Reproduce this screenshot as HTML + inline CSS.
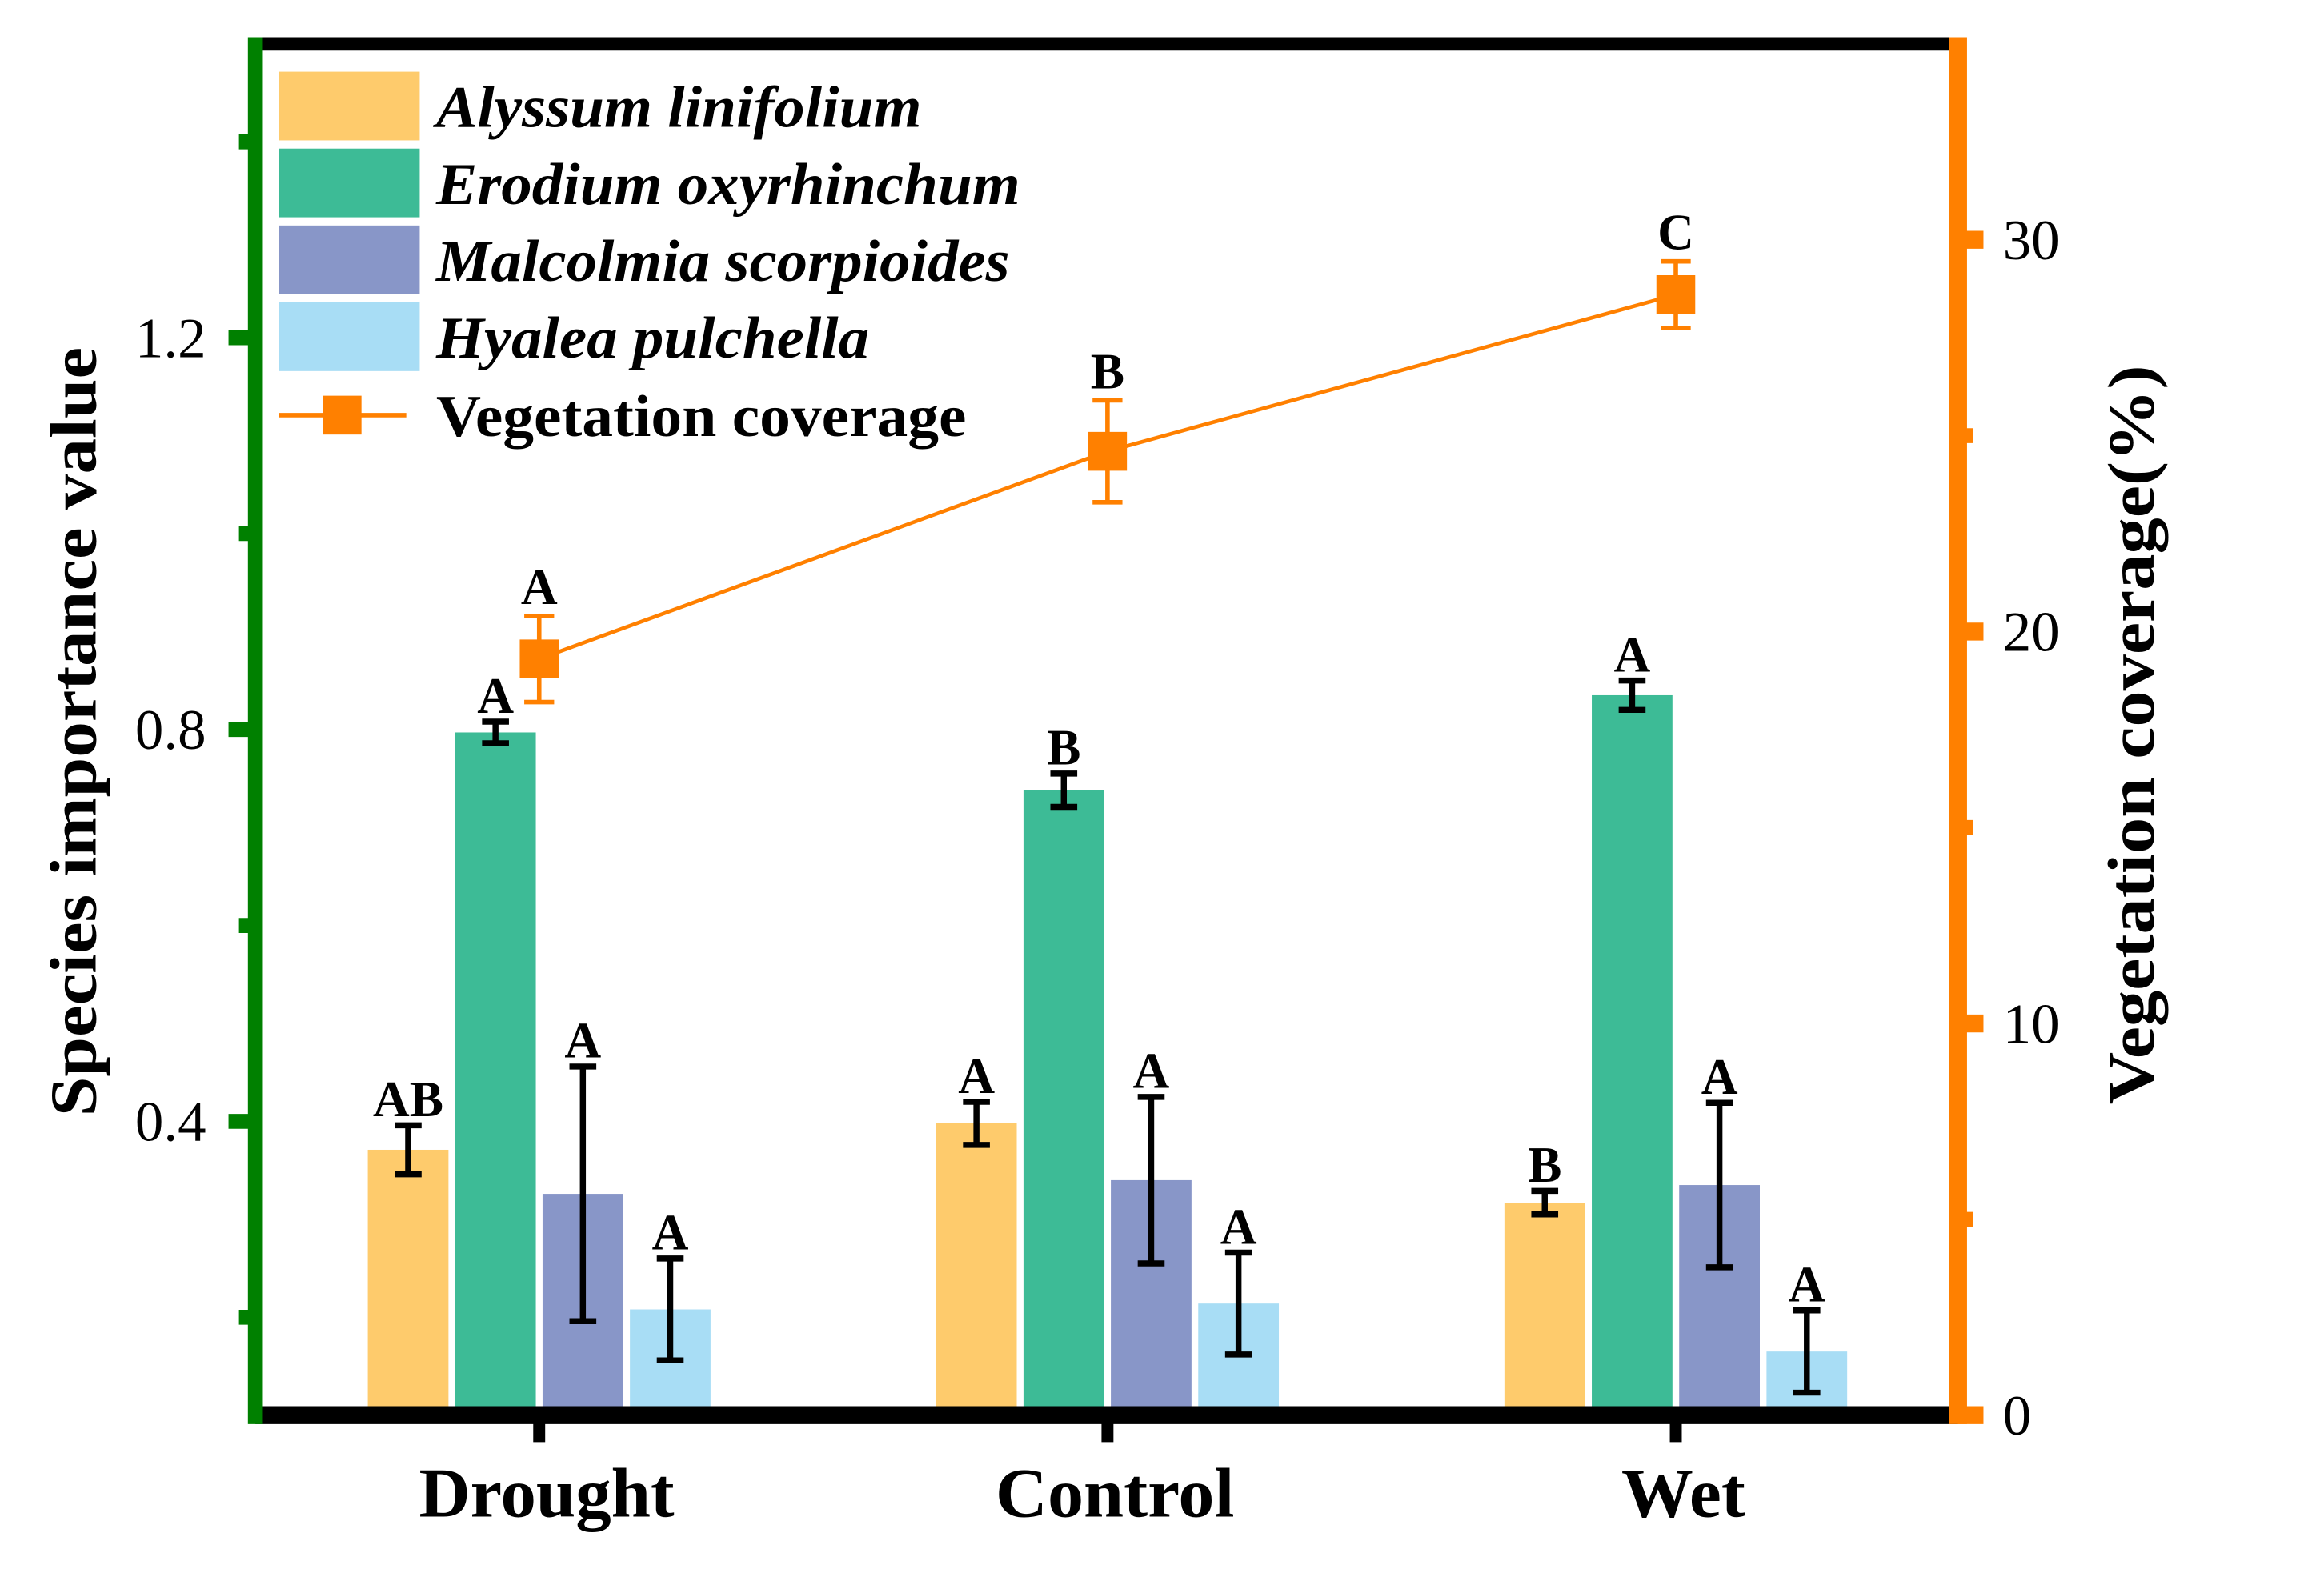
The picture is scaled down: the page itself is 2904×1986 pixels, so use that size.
<!DOCTYPE html>
<html><head><meta charset="utf-8"><style>
html,body{margin:0;padding:0;background:#fff;}
svg{display:block;font-family:"Liberation Serif",serif;}
</style></head><body>
<svg id="chart" width="2904" height="1986" viewBox="0 0 1556 1064" preserveAspectRatio="none" xmlns="http://www.w3.org/2000/svg">
<rect x="0" y="0" width="1556" height="1064" fill="#fff"/>
<g id="marks"></g>
<g id="axes"></g>
<g id="legend"></g>
<text transform="translate(64,490) rotate(-90)" text-anchor="middle" font-size="44" font-weight="bold" textLength="515" lengthAdjust="spacingAndGlyphs">Species importance value</text>
<text transform="translate(1442,492) rotate(-90)" text-anchor="middle" font-size="44" font-weight="bold" textLength="495" lengthAdjust="spacingAndGlyphs">Vegetation coverage(%)</text>
</svg>
<script>
const categories = ["Drought", "Control", "Wet"];
const species = ["Alyssum linifolium", "Erodium oxyrhinchum", "Malcolmia scorpioides", "Hyalea pulchella"];
const alyssum = [0.371, 0.398, 0.317];
const alyssumErr = [0.025, 0.022, 0.012];
const alyssumSig = ["AB", "A", "B"];
const erodium = [0.797, 0.738, 0.835];
const erodiumErr = [0.011, 0.017, 0.015];
const erodiumSig = ["A", "B", "A"];
const malcolmia = [0.326, 0.340, 0.335];
const malcolmiaErr = [0.13, 0.085, 0.084];
const malcolmiaSig = ["A", "A", "A"];
const hyalea = [0.208, 0.214, 0.165];
const hyaleaErr = [0.052, 0.052, 0.042];
const hyaleaSig = ["A", "A", "A"];
const coverage = [19.3, 24.6, 28.6];
const coverageErr = [1.1, 1.3, 0.85];
const coverageSig = ["A", "B", "C"];
const yTicks = [0.4, 0.8, 1.2];
const yMinor = [0.2, 0.6, 1.0, 1.4];
const y2Ticks = [0, 10, 20, 30];
const y2Minor = [5, 15, 25];

const NS = "http://www.w3.org/2000/svg";
const L = 171, R = 1311, T = 29.4, B = 947.6;
const yMin = 0.1, yMax = 1.5, y2Max = 35;
const y = v => B - (v - yMin) / (yMax - yMin) * (B - T);
const y2 = v => B - v / y2Max * (B - T);
const gx = i => 361 + i * 380.5;
const barW = 54, step = 58.5;
const colors = ["#FECB6C", "#3DBB96", "#8896C8", "#A8DDF5"];
const ORANGE = "#FF8000";
function mk(tag, attrs, parent, txt) {
  const e = document.createElementNS(NS, tag);
  for (const k in attrs) e.setAttribute(k, attrs[k]);
  if (txt !== undefined) e.textContent = txt;
  parent.appendChild(e);
  return e;
}
const marks = document.getElementById("marks");
const axes = document.getElementById("axes");
const legend = document.getElementById("legend");
const series = [alyssum, erodium, malcolmia, hyalea];
const errs = [alyssumErr, erodiumErr, malcolmiaErr, hyaleaErr];
const sigs = [alyssumSig, erodiumSig, malcolmiaSig, hyaleaSig];
const keys = ["alyssum", "erodium", "malcolmia", "hyalea"];
series.forEach((vals, s) => {
  vals.forEach((v, i) => {
    const cx = gx(i) + (s - 1.5) * step;
    const r = mk("rect", {x: cx - barW / 2, y: y(v), width: barW, height: B - y(v), fill: colors[s]}, marks);
    
    
    const hi = y(v + errs[s][i]), lo = y(v - errs[s][i]);
    const eb = mk("path", {d: `M${cx},${hi}V${lo}M${cx - 9},${hi}H${cx + 9}M${cx - 9},${lo}H${cx + 9}`, stroke: "#000", "stroke-width": 4, fill: "none"}, marks);
    
    
    const t = mk("text", {x: cx, y: hi - 6, "text-anchor": "middle", "font-size": 34, "font-weight": "bold"}, marks, sigs[s][i]);
    
    
  });
});
const pts = coverage.map((v, i) => `${gx(i)},${y2(v)}`).join(" ");
const pl = mk("polyline", {points: pts, fill: "none", stroke: ORANGE, "stroke-width": 2.5}, marks);


coverage.forEach((v, i) => {
  const cx = gx(i), hi = y2(v + coverageErr[i]), lo = y2(v - coverageErr[i]);
  const eb = mk("path", {d: `M${cx},${hi}V${lo}M${cx - 10},${hi}H${cx + 10}M${cx - 10},${lo}H${cx + 10}`, stroke: ORANGE, "stroke-width": 3, fill: "none"}, marks);
  
  
  const p = mk("rect", {x: cx - 13, y: y2(v) - 13, width: 26, height: 26, fill: ORANGE}, marks);
  
  
  const t = mk("text", {x: cx, y: hi - 8, "text-anchor": "middle", "font-size": 34, "font-weight": "bold"}, marks, coverageSig[i]);
  
  
});
let a;
a = mk("line", {x1: L, y1: T, x2: R, y2: T, stroke: "#000", "stroke-width": 9}, axes);
 
a = mk("line", {x1: L, y1: B, x2: R, y2: B, stroke: "#000", "stroke-width": 12}, axes);
 
a = mk("line", {x1: L, y1: T - 4.5, x2: L, y2: B + 6, stroke: "#008000", "stroke-width": 10}, axes);
 
a = mk("line", {x1: R, y1: T - 4.5, x2: R, y2: B + 6, stroke: ORANGE, "stroke-width": 12}, axes);
 
yTicks.forEach(v => {
  const tk = mk("line", {x1: L - 18, y1: y(v), x2: L, y2: y(v), stroke: "#008000", "stroke-width": 10}, axes);
   
  const t = mk("text", {x: L - 33, y: y(v) + 13, "text-anchor": "end", "font-size": 38}, axes, v.toFixed(1));
   
});
yMinor.forEach(v => {
  const tk = mk("line", {x1: L - 11, y1: y(v), x2: L, y2: y(v), stroke: "#008000", "stroke-width": 10}, axes);
   
});
y2Ticks.forEach(v => {
  const tk = mk("line", {x1: R, y1: y2(v), x2: R + 17, y2: y2(v), stroke: ORANGE, "stroke-width": 12}, axes);
   
  const t = mk("text", {x: R + 30, y: y2(v) + 13, "font-size": 38}, axes, String(v));
   
});
y2Minor.forEach(v => {
  const tk = mk("line", {x1: R, y1: y2(v), x2: R + 10, y2: y2(v), stroke: ORANGE, "stroke-width": 10}, axes);
   
});
const xLabelW = [171, 160, 83];
categories.forEach((c, i) => {
  const tk = mk("line", {x1: gx(i), y1: B, x2: gx(i), y2: B + 18, stroke: "#000", "stroke-width": 8}, axes);
   
  const t = mk("text", {x: gx(i) + 5, y: B + 68, "text-anchor": "middle", "font-size": 47, "font-weight": "bold", textLength: xLabelW[i], lengthAdjust: "spacingAndGlyphs"}, axes, c);
   
});
const legendW = [325, 391, 384, 290];
species.forEach((s, k) => {
  const yy = 48 + k * 51.5;
  const sw = mk("rect", {x: 187, y: yy, width: 94, height: 46, fill: colors[k]}, legend);
   
  const t = mk("text", {x: 292, y: yy + 37, "font-size": 40, "font-style": "italic", "font-weight": "bold", textLength: legendW[k], lengthAdjust: "spacingAndGlyphs"}, legend, s);
   
});
let lg = mk("line", {x1: 187, y1: 278, x2: 272, y2: 278, stroke: ORANGE, "stroke-width": 3}, legend);
 
lg = mk("rect", {x: 216, y: 265, width: 26, height: 26, fill: ORANGE}, legend);
 
lg = mk("text", {x: 292, y: 292, "font-size": 40, "font-weight": "bold", textLength: 355, lengthAdjust: "spacingAndGlyphs"}, legend, "Vegetation coverage");
 
</script>
</body></html>
